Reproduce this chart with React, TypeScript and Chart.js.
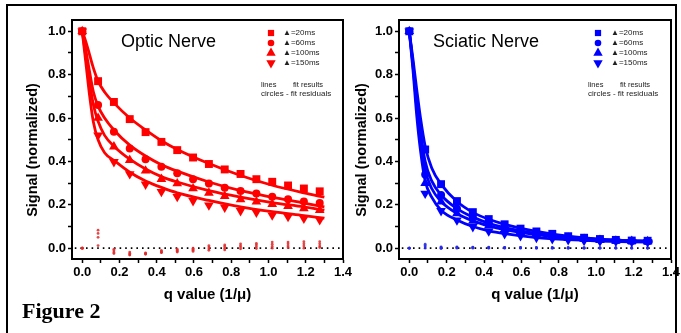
import React, { useEffect, useRef } from 'react';
import { Chart, registerables } from 'chart.js';
import { drawPoint } from 'chart.js/helpers';

Chart.register(...registerables);

// ---------- data ----------
const qData = [0, 0.085, 0.17, 0.255, 0.34, 0.425, 0.51, 0.595, 0.68, 0.765, 0.85, 0.935, 1.02, 1.105, 1.19, 1.275];
const fitQ = [0, 0.02, 0.04, 0.06, 0.085, 0.12, 0.17, 0.255, 0.34, 0.425, 0.51, 0.68, 0.85, 1.02, 1.19, 1.3];
const seriesLabels = ['\u25B2=20ms', '\u25B2=60ms', '\u25B2=100ms', '\u25B2=150ms'];
const xTickValues = [0, 0.1, 0.2, 0.3, 0.4, 0.5, 0.6, 0.7, 0.8, 0.9, 1.0, 1.1, 1.2, 1.3, 1.4];
const yTickValues = [0, 0.1, 0.2, 0.3, 0.4, 0.5, 0.6, 0.7, 0.8, 0.9, 1.0];
const zeroLineX = [-0.04, 1.4];

// Optic nerve measured signal
const optic20 = [1.0, 0.77, 0.674, 0.595, 0.535, 0.49, 0.452, 0.418, 0.388, 0.363, 0.342, 0.318, 0.306, 0.289, 0.275, 0.262];
const optic60 = [1.0, 0.66, 0.537, 0.46, 0.41, 0.375, 0.345, 0.318, 0.298, 0.278, 0.263, 0.252, 0.237, 0.226, 0.215, 0.208];
const optic100 = [1.0, 0.6, 0.468, 0.406, 0.357, 0.318, 0.298, 0.275, 0.255, 0.24, 0.225, 0.214, 0.203, 0.194, 0.183, 0.175];
const optic150 = [1.0, 0.52, 0.398, 0.342, 0.294, 0.26, 0.237, 0.218, 0.198, 0.188, 0.172, 0.165, 0.152, 0.145, 0.137, 0.13];
// Optic nerve fit curves (at fitQ)
const opticFit20 = [1.0, 0.95, 0.89, 0.83, 0.77, 0.72, 0.67, 0.6, 0.545, 0.495, 0.455, 0.39, 0.335, 0.29, 0.255, 0.235];
const opticFit60 = [1.0, 0.91, 0.81, 0.72, 0.655, 0.6, 0.545, 0.475, 0.425, 0.385, 0.355, 0.305, 0.265, 0.235, 0.208, 0.19];
const opticFit100 = [1.0, 0.88, 0.76, 0.66, 0.585, 0.52, 0.47, 0.41, 0.365, 0.33, 0.305, 0.265, 0.235, 0.21, 0.19, 0.175];
const opticFit150 = [1.0, 0.85, 0.7, 0.58, 0.5, 0.44, 0.405, 0.35, 0.31, 0.28, 0.255, 0.22, 0.19, 0.168, 0.15, 0.138];
// Optic nerve fit residuals
const opticRes20 = [0, 0.012, -0.005, -0.018, -0.022, -0.01, -0.005, 0.0, 0.012, 0.015, 0.02, 0.022, 0.028, 0.028, 0.03, 0.03];
const opticRes60 = [0, 0.05, -0.012, -0.024, -0.025, -0.015, -0.01, -0.005, 0.005, 0.008, 0.012, 0.015, 0.018, 0.02, 0.02, 0.02];
const opticRes100 = [0, 0.068, -0.02, -0.03, -0.025, -0.02, -0.015, -0.01, -0.003, 0.0, 0.005, 0.006, 0.008, 0.01, 0.01, 0.01];
const opticRes150 = [0, 0.083, -0.025, -0.032, -0.028, -0.02, -0.018, -0.015, -0.01, -0.008, -0.003, -0.002, 0.0, 0.002, 0.0, 0.003];

// Sciatic nerve measured signal
const sciatic20 = [1.0, 0.455, 0.295, 0.217, 0.166, 0.134, 0.11, 0.09, 0.077, 0.066, 0.055, 0.048, 0.042, 0.038, 0.035, 0.034];
const sciatic60 = [1.0, 0.34, 0.245, 0.183, 0.145, 0.114, 0.095, 0.08, 0.068, 0.058, 0.051, 0.045, 0.04, 0.037, 0.034, 0.032];
const sciatic100 = [1.0, 0.3, 0.214, 0.16, 0.126, 0.103, 0.086, 0.072, 0.062, 0.054, 0.046, 0.042, 0.037, 0.034, 0.032, 0.031];
const sciatic150 = [1.0, 0.252, 0.172, 0.129, 0.098, 0.078, 0.066, 0.057, 0.049, 0.043, 0.038, 0.035, 0.032, 0.031, 0.029, 0.028];
// Sciatic nerve fit curves (at fitQ)
const sciaticFit20 = [1.0, 0.87, 0.73, 0.6, 0.47, 0.37, 0.295, 0.215, 0.165, 0.133, 0.11, 0.077, 0.055, 0.042, 0.035, 0.033];
const sciaticFit60 = [1.0, 0.85, 0.68, 0.54, 0.4, 0.31, 0.245, 0.182, 0.143, 0.115, 0.095, 0.068, 0.051, 0.04, 0.034, 0.031];
const sciaticFit100 = [1.0, 0.84, 0.65, 0.5, 0.36, 0.275, 0.215, 0.16, 0.126, 0.103, 0.086, 0.062, 0.046, 0.037, 0.032, 0.03];
const sciaticFit150 = [1.0, 0.82, 0.61, 0.45, 0.31, 0.235, 0.175, 0.13, 0.1, 0.08, 0.067, 0.049, 0.039, 0.033, 0.029, 0.027];
// Sciatic nerve fit residuals
const sciaticRes20 = [0, 0.018, 0.006, 0.006, 0.005, 0.005, 0.004, 0.004, 0.003, 0.003, 0.003, 0.002, 0.002, 0.002, 0.002, 0.001];
const sciaticRes60 = [0, 0.012, 0.004, 0.004, 0.003, 0.003, 0.003, 0.002, 0.002, 0.002, 0.001, 0.001, 0.001, 0.001, 0.001, 0.001];
const sciaticRes100 = [0, 0.006, 0.0, 0.002, 0.002, 0.001, 0.001, 0.001, 0.0, 0.0, 0.0, 0.0, 0.0, 0.0, 0.0, 0.0];
const sciaticRes150 = [0, 0.0, -0.002, 0.0, 0.0, 0.0, 0.0, 0.0, 0.0, 0.0, 0.0, 0.0, 0.0, 0.0, 0.0, 0.0];

// ---------- styles ----------
const SANS = "'Liberation Sans', Arial, Helvetica, sans-serif";
const markers = [
  { style: 'rect', radius: 5.6, rotation: 0, legendRadius: 4.4 },
  { style: 'circle', radius: 4, rotation: 0, legendRadius: 3.3 },
  { style: 'triangle', radius: 5.6, rotation: 0, legendRadius: 5.4 },
  { style: 'triangle', radius: 5.6, rotation: 180, legendRadius: 5.4 },
];

type PanelCfg = {
  color: string;
  resColor: string;
  title: string;
  data: number[][];
  fits: number[][];
  res: number[][];
  padLeft: number;
  padRight: number;
  yWidth: number;
  titleX: number;
  yTitleX: number;
  xTitleX: number;
  legendX: number;
  legendTextX: number;
  notesX: number;
};

const toPts = (xs: number[], ys: number[]) => ys.map((y, i) => ({ x: xs[i], y }));

function makeChart(canvas: HTMLCanvasElement, cfg: PanelCfg) {
  const datasets: any[] = [];
  cfg.data.forEach((d, i) => {
    datasets.push({
      label: seriesLabels[i],
      data: toPts(qData, d),
      showLine: false,
      pointStyle: markers[i].style,
      pointRadius: markers[i].radius,
      pointRotation: markers[i].rotation,
      pointBackgroundColor: cfg.color,
      pointBorderWidth: 0,
      borderColor: cfg.color,
      backgroundColor: cfg.color,
    });
  });
  cfg.fits.forEach((f, i) => {
    datasets.push({
      label: 'fit ' + seriesLabels[i],
      data: toPts(fitQ, f),
      showLine: true,
      borderColor: cfg.color,
      borderWidth: 2.8,
      pointRadius: 0,
      cubicInterpolationMode: 'monotone',
      fill: false,
    });
  });
  cfg.res.forEach((r, i) => {
    datasets.push({
      label: 'residual ' + seriesLabels[i],
      data: toPts(qData, r),
      showLine: false,
      pointStyle: 'circle',
      pointRadius: 1.4,
      pointBackgroundColor: cfg.resColor,
      pointBorderWidth: 0,
      backgroundColor: cfg.resColor,
    });
  });
  datasets.push({
    label: 'zero',
    data: zeroLineX.map((x) => ({ x, y: 0 })),
    showLine: true,
    borderColor: '#000',
    borderWidth: 1.6,
    borderDash: [1.6, 4],
    pointRadius: 0,
  });

  const annot = {
    id: 'annot',
    afterDraw(chart: any) {
      const ctx = chart.ctx as CanvasRenderingContext2D;
      const a = chart.chartArea;
      ctx.save();
      ctx.strokeStyle = '#000';
      ctx.lineWidth = 2;
      ctx.setLineDash([]);
      ctx.strokeRect(a.left, a.top, a.right - a.left, a.bottom - a.top);

      ctx.fillStyle = '#000';
      ctx.textBaseline = 'middle';
      ctx.textAlign = 'left';
      ctx.font = `18px ${SANS}`;
      ctx.fillText(cfg.title, cfg.titleX, 42);

      // legend
      const rows = [33, 43, 53, 63];
      rows.forEach((yy, i) => {
        ctx.fillStyle = cfg.color;
        drawPoint(ctx, { pointStyle: markers[i].style, radius: markers[i].legendRadius, rotation: markers[i].rotation, borderWidth: 0 } as any, cfg.legendX, yy);
        ctx.fillStyle = '#222';
        ctx.font = `8px ${SANS}`;
        ctx.fillText(seriesLabels[i], cfg.legendTextX, yy);
      });
      ctx.fillStyle = '#222';
      ctx.font = `7.5px ${SANS}`;
      ctx.fillText('lines', cfg.notesX, 85);
      ctx.fillText('fit results', cfg.notesX + 32, 85);
      ctx.font = `8px ${SANS}`;
      ctx.fillText('circles - fit residuals', cfg.notesX, 94);

      // axis titles
      ctx.fillStyle = '#000';
      ctx.textAlign = 'center';
      ctx.font = `bold 15px ${SANS}`;
      ctx.fillText('q value (1/\u03BC)', cfg.xTitleX, 295);
      ctx.save();
      ctx.translate(cfg.yTitleX, 150);
      ctx.rotate(-Math.PI / 2);
      ctx.font = `bold 14.5px ${SANS}`;
      ctx.fillText('Signal (normalized)', 0, 0);
      ctx.restore();
      ctx.restore();
    },
  };

  const tickFont = { family: SANS, size: 13, weight: 'bold' as const };
  return new Chart(canvas, {
    type: 'scatter',
    data: { datasets },
    plugins: [annot],
    options: {
      animation: false,
      responsive: false,
      maintainAspectRatio: false,
      layout: { padding: { left: cfg.padLeft, right: cfg.padRight, top: 20, bottom: 0 } },
      plugins: { legend: { display: false }, tooltip: { enabled: false }, title: { display: false } },
      scales: {
        x: {
          type: 'linear',
          min: -0.055,
          max: 1.4,
          afterBuildTicks: (axis: any) => {
            axis.ticks = xTickValues.map((v) => ({ value: v }));
          },
          afterFit: (axis: any) => {
            axis.height = 45;
          },
          ticks: {
            autoSkip: false,
            maxRotation: 0,
            padding: 2,
            color: '#000',
            font: tickFont,
            callback: (v: any) => (Math.round(Number(v) * 10) % 2 === 0 ? Number(v).toFixed(1) : ''),
          },
          grid: { display: true, drawOnChartArea: false, drawTicks: true, tickLength: 4, tickColor: '#000', tickWidth: 1.5 },
          border: { display: true, color: '#000', width: 2 },
        },
        y: {
          type: 'linear',
          min: -0.05,
          max: 1.052,
          afterBuildTicks: (axis: any) => {
            axis.ticks = yTickValues.map((v) => ({ value: v }));
          },
          afterFit: (axis: any) => {
            axis.width = cfg.yWidth;
          },
          ticks: {
            autoSkip: false,
            padding: 2,
            color: '#000',
            font: tickFont,
            callback: (v: any) => (Math.round(Number(v) * 10) % 2 === 0 ? Number(v).toFixed(1) : ''),
          },
          grid: { display: true, drawOnChartArea: false, drawTicks: true, tickLength: 4, tickColor: '#000', tickWidth: 1.5 },
          border: { display: true, color: '#000', width: 2 },
        },
      },
    } as any,
  });
}

const opticCfg: PanelCfg = {
  color: '#ff0000',
  resColor: 'rgba(225,40,40,0.85)',
  title: 'Optic Nerve',
  data: [optic20, optic60, optic100, optic150],
  fits: [opticFit20, opticFit60, opticFit100, opticFit150],
  res: [opticRes20, opticRes60, opticRes100, opticRes150],
  padLeft: 25,
  padRight: 17,
  yWidth: 47,
  titleX: 121,
  yTitleX: 33,
  xTitleX: 207.5,
  legendX: 271,
  legendTextX: 283,
  notesX: 261,
};

const sciaticCfg: PanelCfg = {
  color: '#0000ff',
  resColor: 'rgba(40,40,230,0.85)',
  title: 'Sciatic Nerve',
  data: [sciatic20, sciatic60, sciatic100, sciatic150],
  fits: [sciaticFit20, sciaticFit60, sciaticFit100, sciaticFit150],
  res: [sciaticRes20, sciaticRes60, sciaticRes100, sciaticRes150],
  padLeft: 14,
  padRight: 19,
  yWidth: 45,
  titleX: 93,
  yTitleX: 22,
  xTitleX: 195,
  legendX: 258,
  legendTextX: 271,
  notesX: 248,
};

export default function App() {
  const leftRef = useRef<HTMLCanvasElement | null>(null);
  const rightRef = useRef<HTMLCanvasElement | null>(null);

  useEffect(() => {
    const c1 = makeChart(leftRef.current!, opticCfg);
    const c2 = makeChart(rightRef.current!, sciaticCfg);
    return () => {
      c1.destroy();
      c2.destroy();
    };
  }, []);

  return (
    <div style={{ position: 'absolute', left: 0, top: 0, width: 681, height: 333, overflow: 'hidden', background: '#fff' }}>
      <div style={{ position: 'absolute', left: 6, top: 4, width: 671, height: 400, borderLeft: '2px solid #000', borderTop: '2px solid #000', borderRight: '2px solid #000', boxSizing: 'border-box' }} />
      <canvas ref={leftRef} width={360} height={304} style={{ position: 'absolute', left: 0, top: 0, width: 360, height: 304 }} />
      <canvas ref={rightRef} width={350} height={304} style={{ position: 'absolute', left: 340, top: 0, width: 350, height: 304 }} />
      <div style={{ position: 'absolute', left: 22, top: 300, fontFamily: "'Liberation Serif', 'Times New Roman', serif", fontWeight: 'bold', fontSize: 22, lineHeight: '22px', color: '#000', whiteSpace: 'nowrap' }}>
        Figure 2
      </div>
    </div>
  );
}
